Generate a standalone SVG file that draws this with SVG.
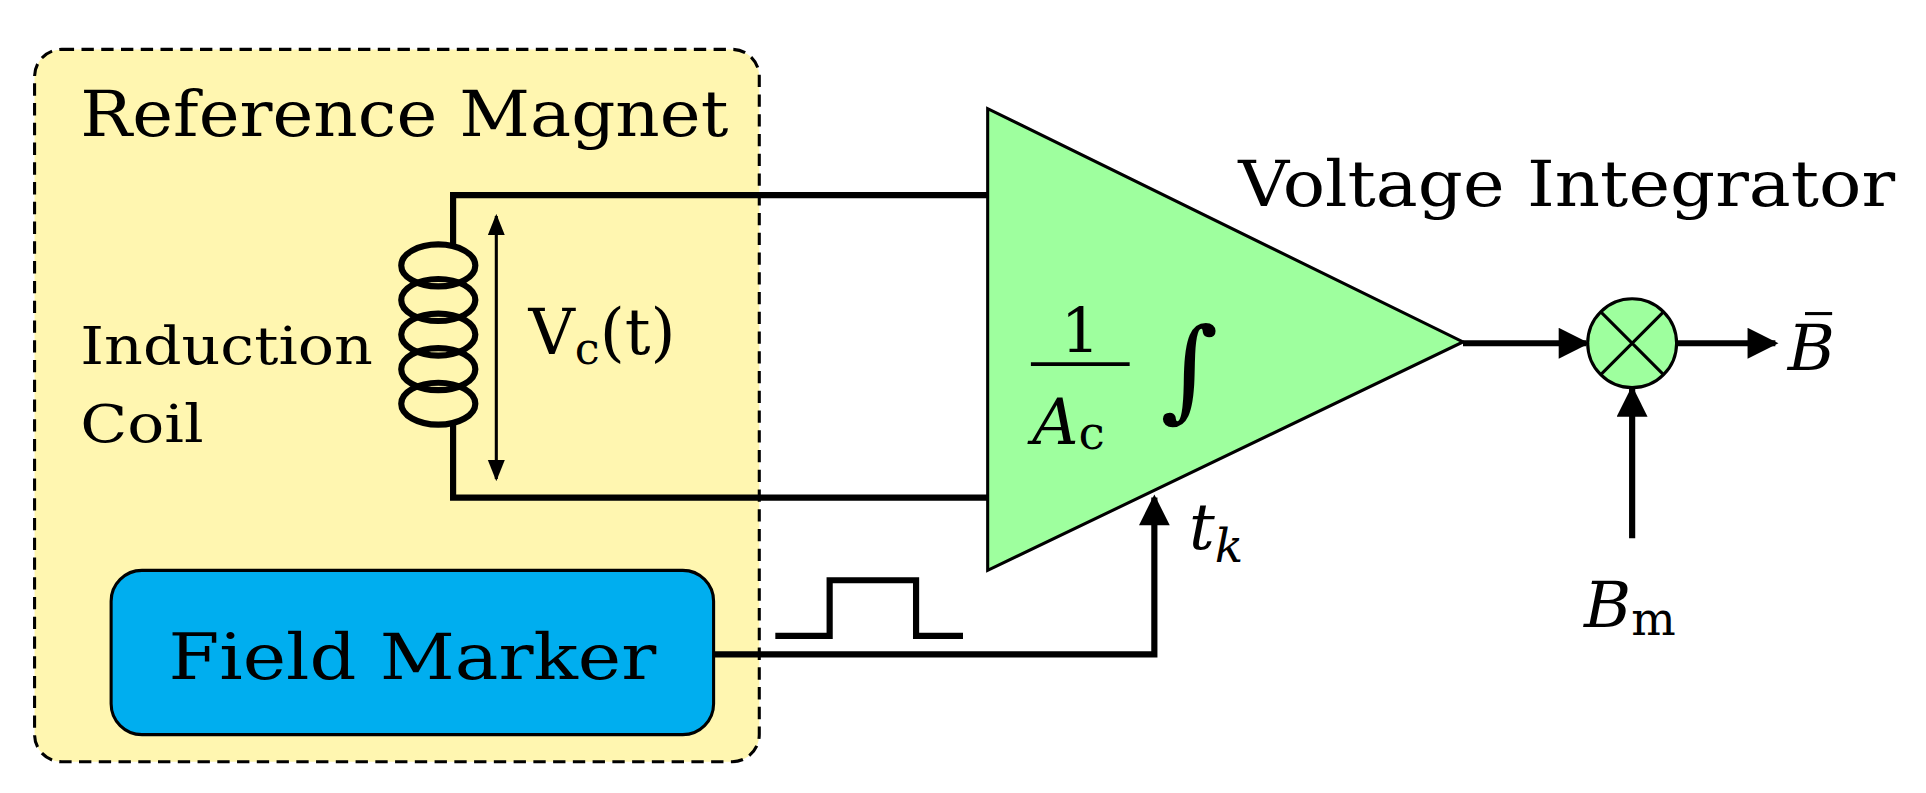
<svg xmlns="http://www.w3.org/2000/svg" width="1926" height="793" viewBox="0 0 1926 793">
<defs>
<marker id="ah" viewBox="0 0 10 10" refX="9" refY="5" markerWidth="6" markerHeight="5" orient="auto-start-reverse"><path d="M0,0 L10,5 L0,10 z" fill="#000"/></marker>
<marker id="as" viewBox="0 0 10 10" refX="9" refY="5" markerWidth="7" markerHeight="7" orient="auto-start-reverse"><path d="M0,1 L10,5 L0,9 z" fill="#000"/></marker>
<style>
text{font-family:"DejaVu Serif","Liberation Serif",serif;fill:#000}
.w{fill:none;stroke:#000;stroke-width:5}
</style>
</defs>
<rect width="1926" height="793" fill="#fff"/>
<g transform="scale(1.2346)">
<g id="refmagnet">
<rect x="28" y="40" width="587" height="577" rx="22" fill="#fff6b0" stroke="#000" stroke-width="2.5" stroke-dasharray="10,6"/>
<text x="65" y="110" font-size="52" textLength="525" lengthAdjust="spacingAndGlyphs">Reference Magnet</text>
</g>
<g id="coil">
<g class="w" stroke-width="6">
<ellipse cx="355" cy="215" rx="30" ry="17"/>
<ellipse cx="355" cy="243" rx="30" ry="17"/>
<ellipse cx="355" cy="271" rx="30" ry="17"/>
<ellipse cx="355" cy="299" rx="30" ry="17"/>
<ellipse cx="355" cy="327" rx="30" ry="17"/>
</g>
<text x="65" y="295" font-size="42" textLength="237" lengthAdjust="spacingAndGlyphs">Induction</text>
<text x="65" y="358" font-size="42" textLength="100" lengthAdjust="spacingAndGlyphs">Coil</text>
<text x="428" y="287" font-size="52">V<tspan font-size="36" dy="8">c</tspan><tspan dy="-8">(t)</tspan></text>
</g>
<g id="integrator">
<polygon points="800,88 800,462 1185,277" fill="#9eff9e" stroke="#000" stroke-width="2.5"/>
<text x="875" y="285" font-size="50" text-anchor="middle">1</text>
<line x1="835" y1="295" x2="915" y2="295" stroke="#000" stroke-width="3"/>
<text x="836" y="360" font-size="52" font-style="italic">A<tspan font-style="normal" font-size="38" dy="4">c</tspan></text>
<text x="940" y="330" font-size="90" font-style="italic">∫</text>
<text x="1003" y="167" font-size="52" textLength="532" lengthAdjust="spacingAndGlyphs">Voltage Integrator</text>
</g>
<g id="multiplier">
<circle cx="1322" cy="278" r="36" fill="#9eff9e" stroke="#000" stroke-width="2.5"/>
<path d="M1297,253 L1347,303 M1347,253 L1297,303" stroke="#000" stroke-width="2.5"/>
<text x="1448" y="300" font-size="52" font-style="italic">B</text>
<line x1="1462" y1="254" x2="1484" y2="254" stroke="#000" stroke-width="2.5"/>
<text x="1283" y="508" font-size="52" font-style="italic">B<tspan font-style="normal" font-size="38" dy="6">m</tspan></text>
</g>
<g id="fieldmarker">
<rect x="90" y="462" width="488" height="133" rx="25" fill="#00aeef" stroke="#000" stroke-width="2.5"/>
<text x="334" y="550" font-size="52" text-anchor="middle" textLength="395" lengthAdjust="spacingAndGlyphs">Field Marker</text>
<text x="963" y="445" font-size="52" font-style="italic">t<tspan font-size="38" dy="10">k</tspan></text>
</g>
<g id="connectors">
<path class="w" d="M800,158 H367 V198"/>
<path class="w" d="M367,344 V403 H800"/>
<line x1="402" y1="175" x2="402" y2="388" stroke="#000" stroke-width="2.5" marker-start="url(#as)" marker-end="url(#as)"/>
<path class="w" d="M1185,278 H1285" marker-end="url(#ah)"/>
<path class="w" d="M1358,278 H1438" marker-end="url(#ah)"/>
<path class="w" d="M1322,436 V315" marker-end="url(#ah)"/>
<path class="w" d="M578,530 H935 V403" marker-end="url(#ah)"/>
<path class="w" d="M628,515 H672 V470 H742 V515 H780"/>
</g>
</g>
</svg>
